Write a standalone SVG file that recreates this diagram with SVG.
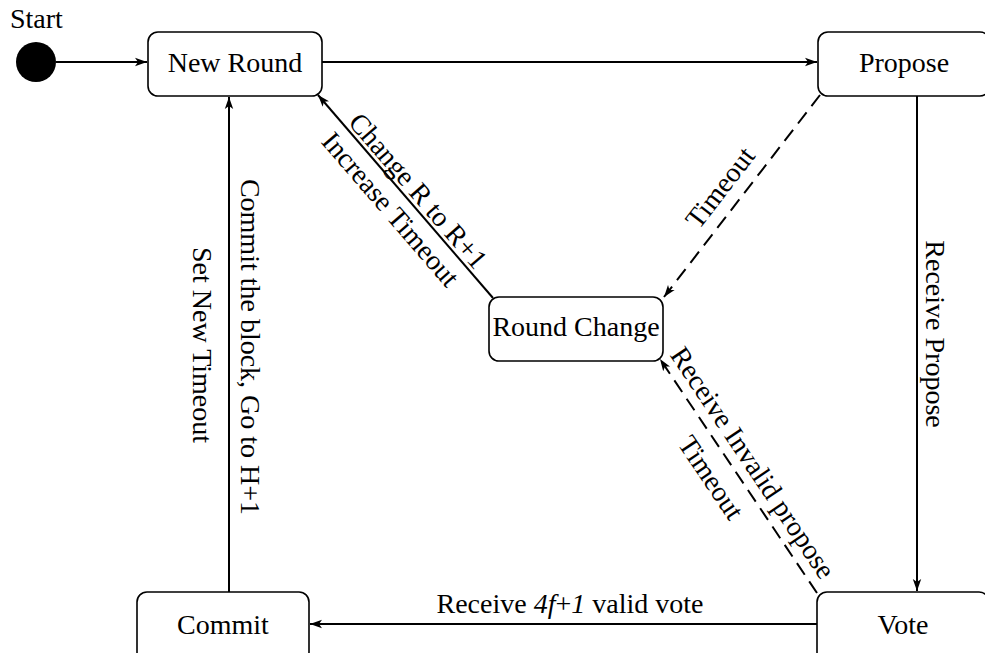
<svg xmlns="http://www.w3.org/2000/svg" width="985" height="653" viewBox="0 0 985 653">
  <style>
    .box { fill: #ffffff; stroke: #000000; stroke-width: 1.6; }
    .lbl { font-family: "Liberation Serif", "Times New Roman", serif; font-size: 28px; fill: #000000; }
    .mid { text-anchor: middle; }
    .edge { fill: none; stroke: #000000; stroke-width: 2; }
    .dash { stroke-dasharray: 14 8; }
  </style>
  <defs>
    <marker id="arrow" viewBox="0 0 12 10" refX="12" refY="5" markerWidth="12" markerHeight="10" markerUnits="userSpaceOnUse" orient="auto">
      <path d="M0,0.8 L12,5 L0,9.2 L3,5 Z" fill="#000000"/>
    </marker>
  </defs>
  <rect width="985" height="653" fill="#ffffff"/>

  <!-- connectors -->
  <g id="connectors">
    <line class="edge" x1="56" y1="62" x2="147" y2="62" marker-end="url(#arrow)"/>
    <line class="edge" x1="322" y1="62" x2="817" y2="62" marker-end="url(#arrow)"/>
    <line class="edge" x1="917" y1="96" x2="917" y2="591" marker-end="url(#arrow)"/>
    <line class="edge" x1="817" y1="624" x2="310" y2="624" marker-end="url(#arrow)"/>
    <line class="edge" x1="229" y1="592" x2="229" y2="97" marker-end="url(#arrow)"/>
    <line class="edge" x1="493" y1="298" x2="318" y2="95" marker-end="url(#arrow)"/>
    <line class="edge dash" x1="820" y1="95" x2="664" y2="297" marker-end="url(#arrow)"/>
    <line class="edge dash" x1="817" y1="593" x2="660" y2="359" marker-end="url(#arrow)"/>

    <!-- connector labels -->
    <g transform="translate(405.5,196.5) rotate(49.2)">
      <text class="lbl mid" x="4" y="-4">Change R to R+1</text>
      <text class="lbl mid" x="0" y="29">Increase Timeout</text>
    </g>
    <g transform="translate(741.5,196.5) rotate(-52.3)">
      <text class="lbl mid" x="-6" y="-13">Timeout</text>
    </g>
    <g transform="translate(738.5,476) rotate(56.1)">
      <text class="lbl mid" x="-3" y="-10">Receive Invalid propose</text>
      <text class="lbl mid" x="-14" y="33">Timeout</text>
    </g>
    <text class="lbl" transform="translate(926,334) rotate(90)" text-anchor="middle">Receive Propose</text>
    <text class="lbl" transform="translate(241,347) rotate(90)" text-anchor="middle">Commit the block, Go to H+1</text>
    <text class="lbl" transform="translate(193,345) rotate(90)" text-anchor="middle">Set New Timeout</text>
    <text class="lbl mid" x="570" y="613">Receive <tspan font-style="italic">4f</tspan>+<tspan font-style="italic">1</tspan> valid vote</text>
  </g>

  <!-- states -->
  <g id="start">
    <circle cx="36" cy="62" r="20" fill="#000000"/>
    <text class="lbl" x="10" y="28">Start</text>
  </g>
  <g id="new-round">
    <rect class="box" x="148" y="32" width="174" height="64" rx="10"/>
    <text class="lbl mid" x="235" y="72">New Round</text>
  </g>
  <g id="propose">
    <rect class="box" x="818" y="32" width="172" height="64" rx="10"/>
    <text class="lbl mid" x="904" y="72">Propose</text>
  </g>
  <g id="round-change">
    <rect class="box" x="489" y="297" width="174" height="64" rx="10"/>
    <text class="lbl mid" x="576" y="336">Round Change</text>
  </g>
  <g id="commit">
    <rect class="box" x="137" y="592" width="172" height="70" rx="10"/>
    <text class="lbl mid" x="223" y="634">Commit</text>
  </g>
  <g id="vote">
    <rect class="box" x="817" y="592" width="172" height="70" rx="10"/>
    <text class="lbl mid" x="903" y="634">Vote</text>
  </g>
</svg>
